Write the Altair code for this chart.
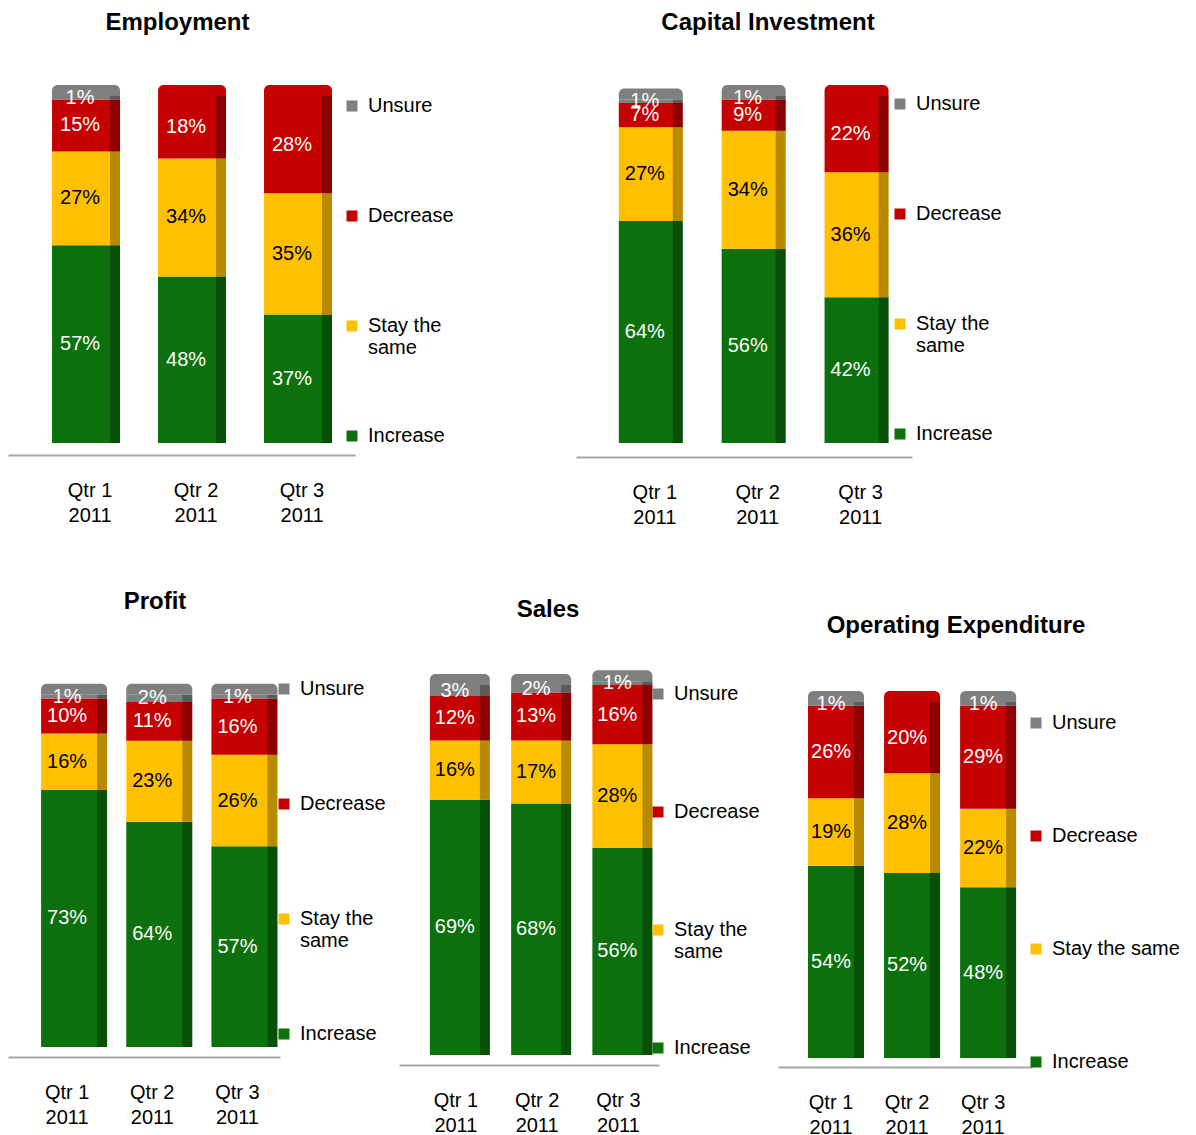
import altair as alt
import pandas as pd

quarters = ["Qtr 1", "Qtr 2", "Qtr 3"]
year = "2011"
categories = ["Unsure", "Decrease", "Stay the same", "Increase"]
colors = ["#7f7f7f", "#c40000", "#ffc000", "#0c700c"]

employment_increase = [57, 48, 37]
employment_stay = [27, 34, 35]
employment_decrease = [15, 18, 28]
employment_unsure = [1, 0, 0]

capital_increase = [64, 56, 42]
capital_stay = [27, 34, 36]
capital_decrease = [7, 9, 22]
capital_unsure = [1, 1, 0]

profit_increase = [73, 64, 57]
profit_stay = [16, 23, 26]
profit_decrease = [10, 11, 16]
profit_unsure = [1, 2, 1]

sales_increase = [69, 68, 56]
sales_stay = [16, 17, 28]
sales_decrease = [12, 13, 16]
sales_unsure = [3, 2, 1]

opex_increase = [54, 52, 48]
opex_stay = [19, 28, 22]
opex_decrease = [26, 20, 29]
opex_unsure = [1, 0, 1]

FONT = "Liberation Sans"
CAP_PX = 11   # depth of the 3-D style top cap, in pixels
SIDE_PX = 10  # width of the shaded 3-D side strip, in pixels


def make_df(inc, stay, dec, uns):
    rows = []
    series = {"Increase": inc, "Stay the same": stay, "Decrease": dec, "Unsure": uns}
    order = {"Increase": 0, "Stay the same": 1, "Decrease": 2, "Unsure": 3}
    for i, q in enumerate(quarters):
        for cat in ["Increase", "Stay the same", "Decrease", "Unsure"]:
            rows.append({"quarter": q, "year": year, "cat": cat,
                         "value": series[cat][i], "ord": order[cat]})
    return pd.DataFrame(rows)


def panel(title, data, width, height, ymax, pad_outer, align, bar_size, bar_dx,
          label_dx, legend_x, legend_y, row_pad, title_offset, title_dx,
          axis_offset, wrap=True):
    df = make_df(*data)
    cap_units = CAP_PX * ymax / height
    xscale = alt.Scale(domain=quarters, paddingInner=0, paddingOuter=pad_outer, align=align)
    yscale = alt.Scale(domain=[0, ymax], nice=False, zero=True)
    cscale = alt.Scale(domain=categories, range=colors)
    xaxis = alt.Axis(title=None, labelAngle=0, ticks=False, labelFontSize=20,
                     labelFont=FONT, labelColor="#000000", labelPadding=25,
                     labelLineHeight=25, domainColor="#a6a6a6", domainWidth=2,
                     offset=axis_offset, labelExpr="[datum.label, '2011']")
    label_expr = ("datum.label == 'Stay the same' ? ['Stay the', 'same'] : [datum.label, '']"
                  if wrap else "datum.label")
    legend = alt.Legend(title=None, orient="none", legendX=legend_x, legendY=legend_y,
                        direction="vertical", symbolType="square", symbolSize=121,
                        symbolStrokeWidth=0, labelFontSize=20, labelFont=FONT,
                        labelColor="#000000", rowPadding=row_pad, labelOffset=6,
                        padding=0, labelExpr=label_expr, labelLimit=300)
    base = alt.Chart(df)
    x_enc = alt.X("quarter:N", sort=quarters, scale=xscale, axis=xaxis)
    y_stack = alt.Y("value:Q", stack="zero", scale=yscale, axis=None)
    order_enc = alt.Order("ord:Q", sort="ascending")
    bars = base.mark_bar(size=bar_size, xOffset=bar_dx).encode(
        x=x_enc, y=y_stack,
        color=alt.Color("cat:N", scale=cscale, legend=legend),
        order=order_enc,
    )
    side = base.mark_bar(size=SIDE_PX, xOffset=bar_dx + bar_size / 2 - SIDE_PX / 2,
                         color="#000000", opacity=0.28).encode(
        x=x_enc, y=y_stack, order=order_enc,
    )
    caps = base.transform_filter("datum.value > 0").transform_joinaggregate(
        topord="max(ord)", total="sum(value)", groupby=["quarter"]
    ).transform_filter("datum.ord == datum.topord").transform_calculate(
        captop="datum.total + %f" % cap_units
    ).mark_bar(size=bar_size, xOffset=bar_dx, cornerRadiusTopLeft=9,
               cornerRadiusTopRight=9).encode(
        x=x_enc,
        y=alt.Y("total:Q", scale=yscale, axis=None),
        y2="captop:Q",
        color=alt.Color("cat:N", scale=cscale, legend=legend),
    )
    labels = base.transform_stack(
        stack="value", groupby=["quarter"], as_=["v0", "v1"],
        sort=[alt.SortField("ord", order="ascending")]
    ).transform_filter("datum.value > 0").transform_calculate(
        mid="(datum.v0 + datum.v1) / 2", lab="datum.value + '%'"
    ).mark_text(fontSize=20, font=FONT, dx=label_dx).encode(
        x=x_enc,
        y=alt.Y("mid:Q", scale=yscale, axis=None),
        text="lab:N",
        color=alt.when(alt.datum.cat == "Stay the same").then(alt.value("#000000"))
        .otherwise(alt.value("#ffffff")),
    )
    return alt.layer(bars, caps, side, labels).properties(
        width=width, height=height,
        title=alt.TitleParams(title, fontSize=24, font=FONT, fontWeight="bold",
                              color="#000000", offset=title_offset, dx=title_dx,
                              anchor="middle"),
    )


emp = panel("Employment",
            (employment_increase, employment_stay, employment_decrease, employment_unsure),
            width=347, height=347, ymax=100, pad_outer=0.137, align=1, bar_size=68,
            bar_dx=-4, label_dx=-10, legend_x=334, legend_y=0, row_pad=68,
            title_offset=50, title_dx=-4, axis_offset=12)
cap = panel("Capital Investment",
            (capital_increase, capital_stay, capital_decrease, capital_unsure),
            width=336, height=347, ymax=100, pad_outer=0.133, align=1, bar_size=64,
            bar_dx=-4, label_dx=-10, legend_x=314, legend_y=-2, row_pad=68,
            title_offset=50, title_dx=24, axis_offset=14)
pro = panel("Profit",
            (profit_increase, profit_stay, profit_decrease, profit_unsure),
            width=272, height=362, ymax=102.8, pad_outer=0.097, align=1, bar_size=66,
            bar_dx=7, label_dx=0, legend_x=266, legend_y=-6, row_pad=73,
            title_offset=65, title_dx=11, axis_offset=10)
sal = panel("Sales",
            (sales_increase, sales_stay, sales_decrease, sales_unsure),
            width=260, height=370, ymax=100, pad_outer=0.1, align=1, bar_size=60,
            bar_dx=4, label_dx=-1, legend_x=249, legend_y=-1, row_pad=76,
            title_offset=48, title_dx=19, axis_offset=10)
opx = panel("Operating Expenditure",
            (opex_increase, opex_stay, opex_decrease, opex_unsure),
            width=254, height=373, ymax=104.8, pad_outer=0.17, align=0.58, bar_size=56,
            bar_dx=5, label_dx=0, legend_x=248, legend_y=28, row_pad=93,
            title_offset=47, title_dx=51, axis_offset=9, wrap=False)

row1 = alt.hconcat(emp, cap, spacing=221, bounds="flush").resolve_scale(
    color="independent").resolve_legend(color="independent")
row2 = alt.hconcat(pro, sal, opx, spacing=119, bounds="flush").resolve_scale(
    color="independent").resolve_legend(color="independent")

chart = alt.vconcat(row1, row2, spacing=63).resolve_scale(
    color="independent").resolve_legend(color="independent").properties(
    padding={"top": 10, "left": 8, "right": 5, "bottom": 5},
    background="#ffffff",
).configure_view(stroke=None)

chart.save("out.html", embed_options={"renderer": "svg", "actions": False})
